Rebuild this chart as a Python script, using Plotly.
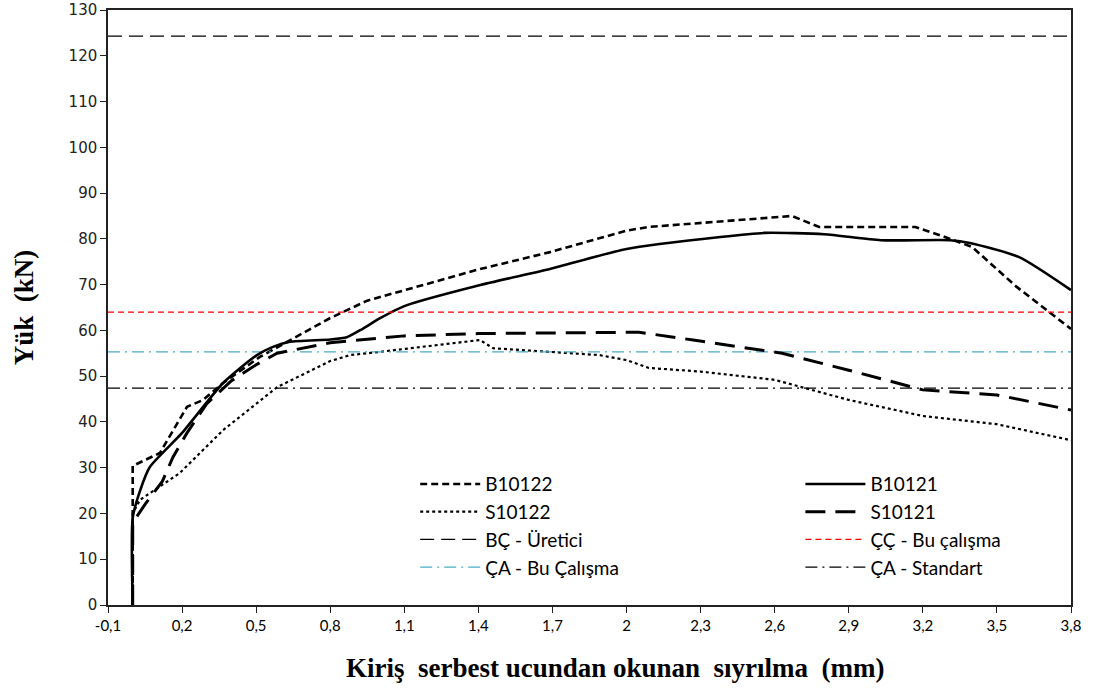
import plotly.graph_objects as go

# ---- data ----
b10122_x = [0, 0, 0.11, 0.22, 0.285, 0.366, 0.515, 0.65, 0.8, 0.95, 1.1, 1.4, 1.69, 2.0, 2.09, 2.58, 2.67, 2.78, 3.17, 3.28, 3.4, 3.58, 3.8]
b10122_y = [0, 30.4, 33.2, 43.3, 44.8, 48.5, 54.2, 58.3, 62.7, 66.5, 68.8, 73.3, 77.1, 81.8, 82.6, 84.6, 85.0, 82.6, 82.6, 80.6, 78.2, 69.5, 60.3]

b10121_x = [0, 0, 0.03, 0.07, 0.2, 0.366, 0.5, 0.568, 0.637, 0.8, 0.867, 0.93, 1.0, 1.1, 1.4, 1.69, 2.0, 2.38, 2.56, 2.8, 3.03, 3.31, 3.39, 3.59, 3.8]
b10121_y = [0, 19, 25, 30.2, 37.6, 48.5, 54.5, 56.4, 57.5, 58.0, 58.5, 60.3, 62.6, 65.3, 69.8, 73.4, 77.8, 80.4, 81.3, 81.0, 79.7, 79.7, 79.1, 76.0, 68.8]

s10122_x = [0, 0, 0.03, 0.19, 0.366, 0.585, 0.8, 0.88, 1.0, 1.406, 1.46, 1.89, 2.0, 2.09, 2.3, 2.6, 2.9, 3.2, 3.5, 3.8]
s10122_y = [0, 20, 23, 28.8, 38.2, 47.6, 53.3, 54.6, 55.3, 57.9, 56.1, 54.6, 53.5, 51.8, 51.0, 49.2, 44.8, 41.3, 39.5, 36.0]

s10121_x = [0, 0, 0.05, 0.12, 0.163, 0.22, 0.3, 0.4, 0.5, 0.585, 0.8, 1.1, 1.4, 2.05, 2.27, 2.63, 2.9, 3.2, 3.5, 3.8]
s10121_y = [0, 18, 22, 27, 32.3, 37.6, 44, 49, 52.5, 55, 57.3, 58.8, 59.3, 59.6, 57.9, 55.0, 51.3, 47.0, 45.9, 42.6]

ref_names = ["BÇ - Üretici", "ÇÇ - Bu çalışma", "ÇA - Bu Çalışma", "ÇA - Standart"]
ref_values = [124.3, 64.0, 55.3, 47.4]

x_range = [-0.1, 3.8]
x_tickvals = [-0.1, 0.2, 0.5, 0.8, 1.1, 1.4, 1.7, 2.0, 2.3, 2.6, 2.9, 3.2, 3.5, 3.8]
x_ticktext = ["-0,1", "0,2", "0,5", "0,8", "1,1", "1,4", "1,7", "2", "2,3", "2,6", "2,9", "3,2", "3,5", "3,8"]

fig = go.Figure()

def curve(x, y, name, dash, width, legend, shape="linear"):
    fig.add_trace(go.Scatter(x=x, y=y, mode="lines", name=name,
                             line=dict(color="black", width=width, dash=dash,
                                       shape=shape, smoothing=0.6),
                             legend=legend))

def hline(val, name, color, dash, width, legend):
    fig.add_trace(go.Scatter(x=x_range, y=[val, val], mode="lines", name=name,
                             line=dict(color=color, width=width, dash=dash),
                             legend=legend))

# left legend column
curve(b10122_x, b10122_y, "B10122", "7px,4px", 2.6, "legend")
curve(s10122_x, s10122_y, "S10122", "dot", 2.2, "legend")
hline(ref_values[0], ref_names[0], "black", "14px,7px", 1.3, "legend")
hline(ref_values[2], ref_names[2], "#4bacc6", "12px,5px,2px,5px", 1.3, "legend")
# right legend column
curve(b10121_x, b10121_y, "B10121", "solid", 2.6, "legend2", shape="spline")
curve(s10121_x, s10121_y, "S10121", "20px,10px", 3.0, "legend2")
hline(ref_values[1], ref_names[1], "red", "6px,4px", 1.3, "legend2")
hline(ref_values[3], ref_names[3], "black", "12px,5px,2px,5px", 1.3, "legend2")

leg_common = dict(orientation="v", font=dict(family="Lato", size=19, color="black"),
                  bgcolor="rgba(0,0,0,0)", yanchor="top", xanchor="left",
                  itemwidth=60, tracegroupgap=0)

NB = "\u00a0"
fig.update_layout(
    width=1097, height=697,
    margin=dict(l=108, r=26, t=10, b=92, autoexpand=False),
    plot_bgcolor="white", paper_bgcolor="white",
    legend=dict(x=0.319, y=0.235, **leg_common),
    legend2=dict(x=0.719, y=0.235, **leg_common),
    xaxis=dict(range=x_range, tickvals=x_tickvals, ticktext=x_ticktext,
               showgrid=False, zeroline=False, showline=True, linecolor="#222",
               linewidth=1.5, mirror=True, ticks="outside", ticklen=6,
               tickcolor="#222", automargin=False,
               tickfont=dict(family="Lato", size=15, color="black")),
    yaxis=dict(range=[0, 130], dtick=10, showgrid=False, zeroline=False,
               showline=True, linecolor="#222", linewidth=1.5, mirror=True,
               ticks="outside", ticklen=6, tickcolor="#222", automargin=False,
               tickfont=dict(family="DejaVu Sans", size=15, color="#222"),
               title=dict(text=f"<b>Yük{NB} (kN)</b>",
                          font=dict(family="Liberation Serif", size=27, color="black"),
                          standoff=27)),
    annotations=[dict(text=f"<b>Kiriş{NB} serbest ucundan okunan{NB} sıyrılma{NB} (mm)</b>",
                      xref="paper", yref="paper", x=0.5265, y=-0.106,
                      xanchor="center", yanchor="middle", showarrow=False,
                      font=dict(family="Liberation Serif", size=27, color="black"))],
)

fig.write_html("out.html", config={"displayModeBar": False},
               post_script="document.body.style.margin='0px';")
